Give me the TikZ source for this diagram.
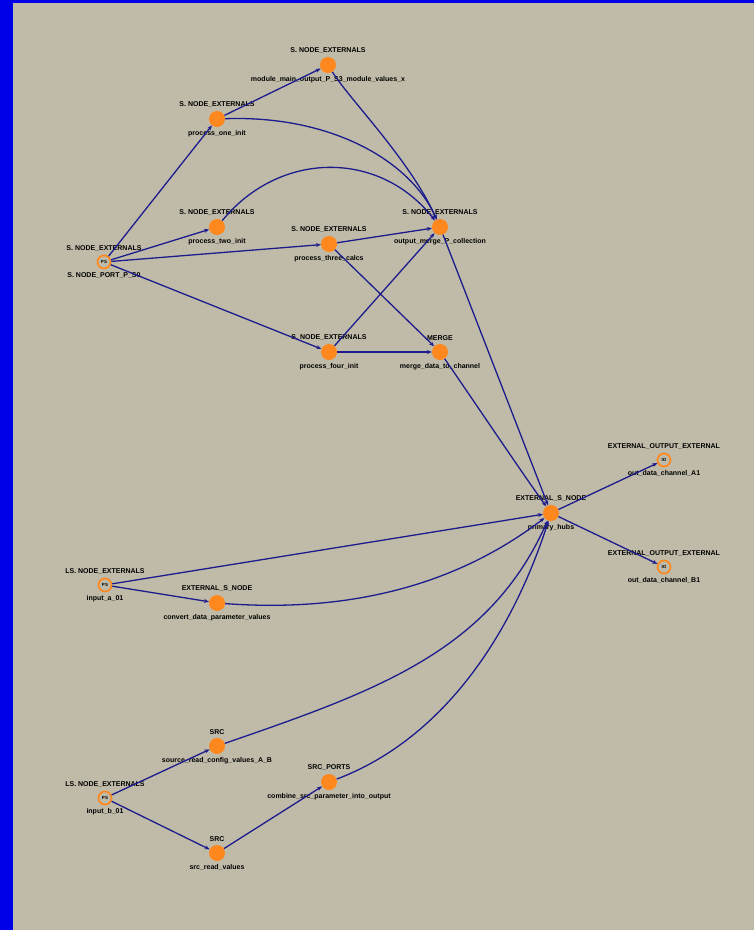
\documentclass[tikz,border=0pt]{standalone}
\usepackage{fontspec}
\setmainfont{Liberation Sans}
\definecolor{framblue}{RGB}{0, 0, 230}
\definecolor{panelbeige}{RGB}{192, 187, 169}
\definecolor{nodeorange}{RGB}{255, 136, 30}
\definecolor{flowblue}{RGB}{28, 28, 140}
\usetikzlibrary{arrows.meta, positioning, calc}
\tikzset{
    dot/.style={circle, fill=nodeorange, minimum size=16, inner sep=0pt},
    ring/.style={circle, draw=nodeorange, line width=1.7pt, minimum size=13,
                 inner sep=0pt, font=\fontsize{4.5}{5}\selectfont\bfseries},
    lbl/.style={font=\fontsize{7}{7}\selectfont\bfseries, inner sep=1pt,
                text=black},
    every label/.style={lbl},
    label distance=2pt,
    flow/.style={draw=flowblue, line width=1.3pt,
                 -{Stealth[length=5pt, width=4pt]}}
}
\begin{document}
\begin{tikzpicture}[x=1pt, y=-1pt]
        % frame and panel
        \fill[framblue] (0,0) rectangle (754,930);
        \fill[panelbeige] (13,3) rectangle (754,930);
        \useasboundingbox (0,0) rectangle (754,930);

        % filled nodes
        \foreach \nm/\x/\y/\up/\down in {
            B/217/119/S. NODE\_EXTERNALS/process\_one\_init,
            C/328/65/S. NODE\_EXTERNALS/module\_main\_output\_P\_S3\_module\_values\_x,
            D/217/227/S. NODE\_EXTERNALS/process\_two\_init,
            E/329/244/S. NODE\_EXTERNALS/process\_three\_calcs,
            F/440/227/S. NODE\_EXTERNALS/output\_merge\_P\_collection,
            G/329/352/S. NODE\_EXTERNALS/process\_four\_init,
            H/440/352/MERGE/merge\_data\_to\_channel,
            I/551/513/EXTERNAL\_S\_NODE/primary\_hubs,
            M/217/603/EXTERNAL\_S\_NODE/convert\_data\_parameter\_values,
            O/217/746/SRC/source\_read\_config\_values\_A\_B,
            P/217/853/SRC/src\_read\_values,
            Q/329/782/SRC\_PORTS/combine\_src\_parameter\_into\_output} {
            \node[dot, label=above:\up, label=below:\down] (\nm) at (\x,\y) {};
        }

        % ring nodes
        \foreach \nm/\x/\y/\up/\down/\tag in {
            A/104/262/S. NODE\_EXTERNALS/S. NODE\_PORT\_P\_S0/PS,
            L/105/585/LS. NODE\_EXTERNALS/input\_a\_01/PS,
            N/105/798/LS. NODE\_EXTERNALS/input\_b\_01/PS,
            J/664/460/EXTERNAL\_OUTPUT\_EXTERNAL/out\_data\_channel\_A1/IO,
            K/664/567/EXTERNAL\_OUTPUT\_EXTERNAL/out\_data\_channel\_B1/IO} {
            \node[ring, label=above:\up, label=below:\down] (\nm) at (\x,\y) {\tag};
        }

        % upper cluster
        \draw[flow] (A) -- (B);
        \draw[flow] (B) -- (C);
        \draw[flow] (A) -- (D);
        \draw[flow] (A) -- (E);
        \draw[flow] (A) -- (G);
        \draw[flow] (B) .. controls (330,115) and (410,160) .. (F);
        \draw[flow] (C) .. controls (350,100) and (410,160) .. (F);
        \draw[flow] (D) .. controls (280,150) and (380,150) .. (F);
        \draw[flow] (E) -- (F);
        \draw[flow] (G) -- (F);
        \draw[flow] (E) -- (H);
        \draw[flow] (G) -- (H);

        % into the hub
        \draw[flow] (F) -- (I);
        \draw[flow] (H) .. controls (480,410) and (520,470) .. (I);
        \draw[flow] (L) -- (I);
        \draw[flow] (L) -- (M);
        \draw[flow] (M) .. controls (340,612) and (450,590) .. (I);
        \draw[flow] (N) -- (O);
        \draw[flow] (N) -- (P);
        \draw[flow] (P) -- (Q);
        \draw[flow] (O) .. controls (380,690) and (490,650) .. (I);
        \draw[flow] (Q) .. controls (440,740) and (510,640) .. (I);

        % out of the hub
        \draw[flow] (I) -- (J);
        \draw[flow] (I) -- (K);
    \end{tikzpicture}
\end{document}
